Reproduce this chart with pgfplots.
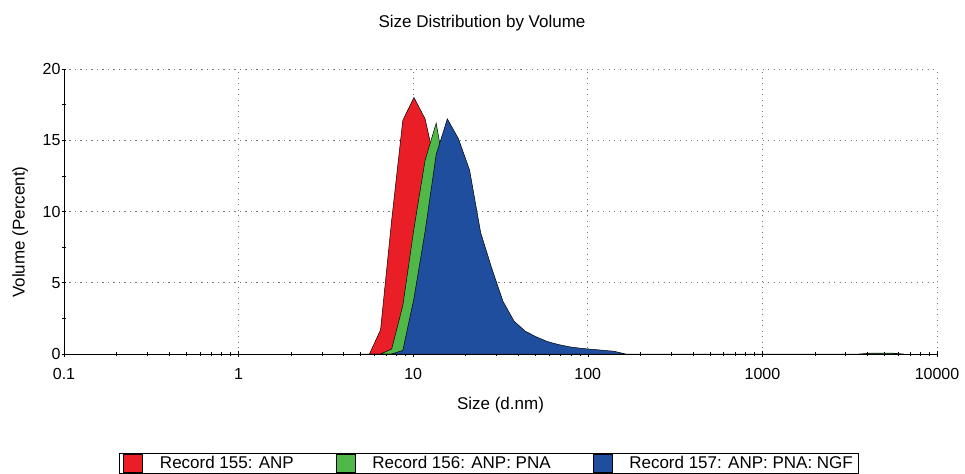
\documentclass[border=0pt]{standalone}
\usepackage{pgfplots}
\pgfplotsset{compat=1.18}
\usepackage{fontspec}
\setmainfont{Liberation Sans}
\definecolor{cred}{RGB}{234,30,38}
\definecolor{cgreen}{RGB}{80,184,72}
\definecolor{cblue}{RGB}{32,78,158}
\definecolor{gridgray}{RGB}{120,120,120}
\begin{document}
\begin{tikzpicture}
\useasboundingbox (0,0) rectangle (965bp,474bp);
\node[anchor=base,font=\fontsize{17bp}{19bp}\selectfont] at (482bp,446bp) {Size Distribution by Volume};
\begin{axis}[
  at={(64bp,120bp)}, anchor=south west,
  width=873bp, height=285bp, scale only axis,
  xmode=log, xmin=0.1, xmax=10000, ymin=0, ymax=20,
  axis x line*=bottom, axis y line*=left,
  axis line style={-, line width=0.8bp},
  xtick={0.1,1,10,100,1000,10000},
  xticklabels={0.1,1,10,100,1000,10000},
  ytick={0,5,10,15,20},
  minor ytick={2.5,7.5,12.5,17.5},
  tick align=center,
  major tick length=5bp, minor tick length=4bp,
  tick style={black, line width=0.6bp},
  grid=major,
  major grid style={gridgray, line width=0.9bp, dash pattern=on 1.2bp off 4.3bp},
  /pgf/number format/assume math mode=true,
  tick label style={font=\fontsize{16bp}{18bp}\selectfont},
  xticklabel style={anchor=base, yshift=-23bp},
  yticklabel style={xshift=2.5bp},
  label style={font=\fontsize{17bp}{19bp}\selectfont},
  xlabel={Size (d.nm)},
  xlabel style={at={(axis description cs:0.5,-0.193)}, anchor=base},
  ylabel={Volume (Percent)},
  ylabel style={at={(axis description cs:-0.05,0.428)}, anchor=center, rotate=0},
  legend columns=3,
  legend image code/.code={\draw[#1,draw=black,line width=0.6bp] (0bp,-9bp) rectangle (19bp,9bp);},
  legend style={
    at={(axis description cs:0.063,-0.421)}, anchor=south west,
    draw=black, line width=0.8bp,
    inner xsep=4bp, inner ysep=1bp,
    font=\fontsize{17bp}{19bp}\selectfont,
    column sep=15bp,
    /tikz/every even column/.append style={column sep=40bp},
  },
]
\addplot[fill=cred, draw=black, line width=0.5bp] coordinates {
 (4.849,0) (5.615,0) (6.503,1.7) (7.531,9.4) (8.721,16.4) (10.1,18.0)
 (11.7,16.5) (13.54,13.0) (15.69,7.0) (18.17,2.0) (21.04,0.4) (24.36,0)
} \closedcycle;
\addlegendentry{Record 155: ANP}
\addplot[fill=cgreen, draw=black, line width=0.5bp] coordinates {
 (5.615,0) (6.503,0) (7.531,0.35) (8.721,3.4) (10.1,8.8) (11.7,13.6)
 (13.54,16.2) (15.69,11.8) (18.17,6.0) (21.04,2.0) (24.36,0.5) (28.21,0.1) (32.67,0)
 (3091,0) (3580,0) (4145,0.06) (4801,0.07) (5560,0.06) (6439,0)
} \closedcycle;
\addlegendentry{Record 156: ANP: PNA}
\addplot[fill=cblue, draw=black, line width=0.5bp] coordinates {
 (6.503,0) (7.531,0) (8.721,0.25) (10.1,3.9) (11.7,8.6) (13.54,14.0)
 (15.69,16.5) (18.17,15.1) (21.04,12.9) (24.36,8.5) (28.21,6.0) (32.67,3.7)
 (37.84,2.3) (43.82,1.6) (50.75,1.2) (58.77,0.87) (68.06,0.66) (78.82,0.5)
 (91.28,0.4) (105.7,0.33) (122.4,0.26) (141.8,0.19) (164.2,0)
} \closedcycle;
\addlegendentry{Record 157: ANP: PNA: NGF}
\end{axis}
\end{tikzpicture}
\end{document}
